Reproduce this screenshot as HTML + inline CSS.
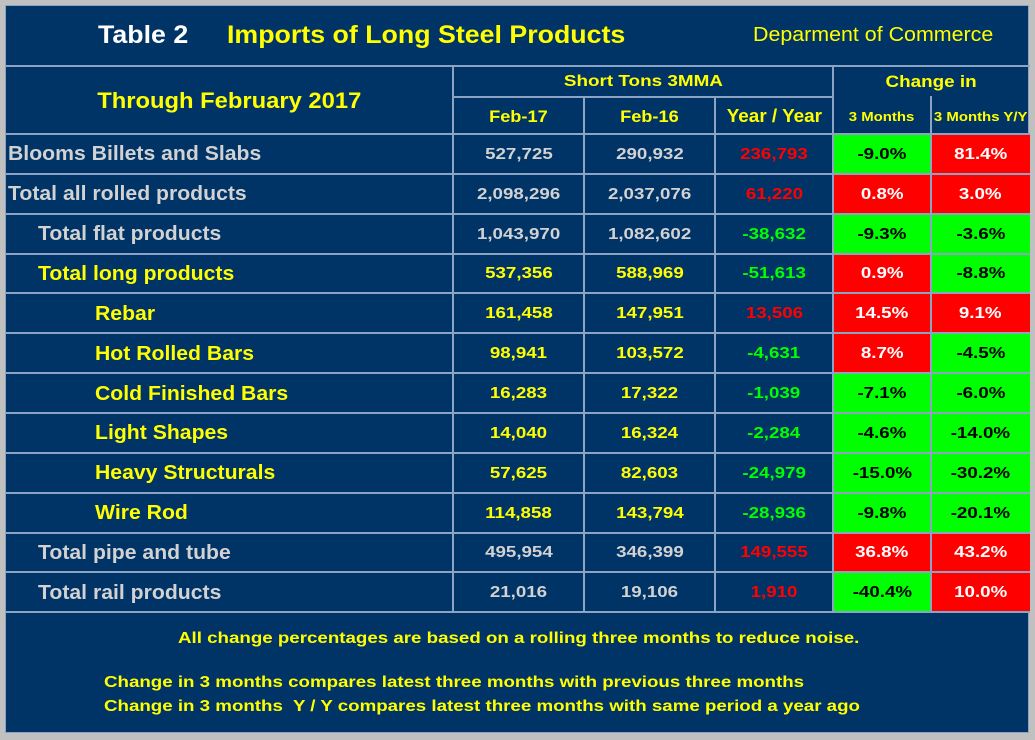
<!DOCTYPE html>
<html><head><meta charset="utf-8"><style>
body{margin:0;width:1035px;height:740px;background:#c0c0c0;overflow:hidden;font-family:"Liberation Sans",sans-serif;font-weight:bold}
#panel{position:absolute;left:5px;top:5px;width:1024px;height:728px;background:#003366;border:1px solid #8ca3c4;box-sizing:border-box}
.c{position:absolute;box-sizing:border-box;display:flex;align-items:center;justify-content:center;white-space:nowrap;padding-top:2px}
.c span{display:inline-block}
.l{position:absolute;background:#8ca3c4}
.t{position:absolute;white-space:nowrap;transform-origin:left top}
</style></head><body>
<div id="panel"></div>
<div class="t" style="left:98px;top:21px;font-size:25px;color:#fff;transform:scaleX(1.07)">Table 2</div>
<div class="t" style="left:227px;top:21px;font-size:25px;color:#ffff00;transform:scaleX(1.07)">Imports of Long Steel Products</div>
<div class="t" style="left:753px;top:24px;font-size:20px;font-weight:normal;color:#ffff00;transform:scaleX(1.07)">Deparment of Commerce</div>
<div class="t" style="left:178px;top:630px;font-size:16px;color:#ffff00;transform:scaleX(1.17)">All change percentages are based on a rolling three months to reduce noise.</div>
<div class="t" style="left:104px;top:671px;font-size:16px;color:#ffff00;line-height:24px;transform:scaleX(1.17)">Change in 3 months compares latest three months with previous three months<br>Change in 3 months&nbsp; Y / Y compares latest three months with same period a year ago</div>
<div id="g"></div>
<script>
const labels=["Blooms Billets and Slabs","Total all rolled products","Total flat products","Total long products","Rebar","Hot Rolled Bars","Cold Finished Bars","Light Shapes","Heavy Structurals","Wire Rod","Total pipe and tube","Total rail products"];
const indent=[0,0,1,1,2,2,2,2,2,2,1,1];
const yellowRow=[0,0,0,1,1,1,1,1,1,1,0,0];
const feb17=[527725,2098296,1043970,537356,161458,98941,16283,14040,57625,114858,495954,21016];
const feb16=[290932,2037076,1082602,588969,147951,103572,17322,16324,82603,143794,346399,19106];
const yoy=[236793,61220,-38632,-51613,13506,-4631,-1039,-2284,-24979,-28936,149555,1910];
const chg3=[-9.0,0.8,-9.3,0.9,14.5,8.7,-7.1,-4.6,-15.0,-9.8,36.8,-40.4];
const chgYY=[81.4,3.0,-3.6,-8.8,9.1,-4.5,-6.0,-14.0,-30.2,-20.1,43.2,10.0];
const g=document.getElementById('g');
const X=[5,453,584,715,833,931,1030];
const top0=134,rh=39.85;
function cell(x,y,w,h,txt,css,name,s,left){const d=document.createElement('div');d.className='c';
d.style.cssText=`left:${x}px;top:${y}px;width:${w}px;height:${h}px;`+css;
const sp=document.createElement('span');sp.textContent=txt;
sp.style.transform=`scaleX(${s})`;sp.style.transformOrigin=left?'left center':'center center';
d.appendChild(sp);


g.appendChild(d);return d;}
function line(x,y,w,h){const d=document.createElement('div');d.className='l';d.style.cssText=`left:${x}px;top:${y}px;width:${w}px;height:${h}px`;


g.appendChild(d);}
const fmt=n=>n.toLocaleString('en-US');
cell(5,65,448,69,"Through February 2017","color:#ff0;font-size:22px;","period-header",1.08);
cell(453,65,380,32,"Short Tons 3MMA","color:#ff0;font-size:16px;","short-tons-header",1.18);
cell(833,65,197,32,"Change in","color:#ff0;font-size:17px;","change-in-header",1.11);
cell(453,97,131,37,"Feb-17","color:#ff0;font-size:17px;","feb17-header",1.07);
cell(584,97,131,37,"Feb-16","color:#ff0;font-size:17px;","feb16-header",1.07);
cell(715,97,118,37,"Year / Year","color:#ff0;font-size:18px;","yoy-header",1.05);
cell(833,97,98,37,"3 Months","color:#ff0;font-size:13px;","3m-header",1.15);
cell(931,97,99,37,"3 Months Y/Y","color:#ff0;font-size:13px;","3m-yy-header",1.15);
for(let i=0;i<labels.length;i++){
 const y=top0+i*rh, col=yellowRow[i]?'#ffff00':'#d2d2d2';
 cell(X[0],y,X[1]-X[0],rh,labels[i],`justify-content:flex-start;padding-left:${[3,33,90][indent[i]]}px;color:${col};font-size:20px;`,'row-label',1.06,true);
 cell(X[1],y,131,rh,fmt(feb17[i]),`color:${col};font-size:16px;`,'feb17-value',1.17);
 cell(X[2],y,131,rh,fmt(feb16[i]),`color:${col};font-size:16px;`,'feb16-value',1.17);
 cell(X[3],y,118,rh,fmt(yoy[i]),`color:${yoy[i]<0?'#00ff00':'#ff0000'};font-size:16px;`,'yoy-value',1.17);
 [[chg3,4],[chgYY,5]].forEach(([arr,c])=>{const v=arr[i];
  cell(X[c],y,X[c+1]-X[c],rh,v.toFixed(1)+'%',`background:${v<0?'#00ff00':'#ff0000'};color:${v<0?'#000':'#fff'};font-size:16px;`,c==4?'change-3m-cell':'change-3m-yy-cell',1.17);});
}
line(5,65,1025,2);line(453,96,380,2);line(5,133,1025,2);
for(let i=1;i<=labels.length;i++)line(5,Math.round(top0+i*rh)-1,1025,2);
line(452,65,2,548);line(832,65,2,548);
[583,714,930].forEach(x=>line(x,96,2,517));
</script>
</body></html>
